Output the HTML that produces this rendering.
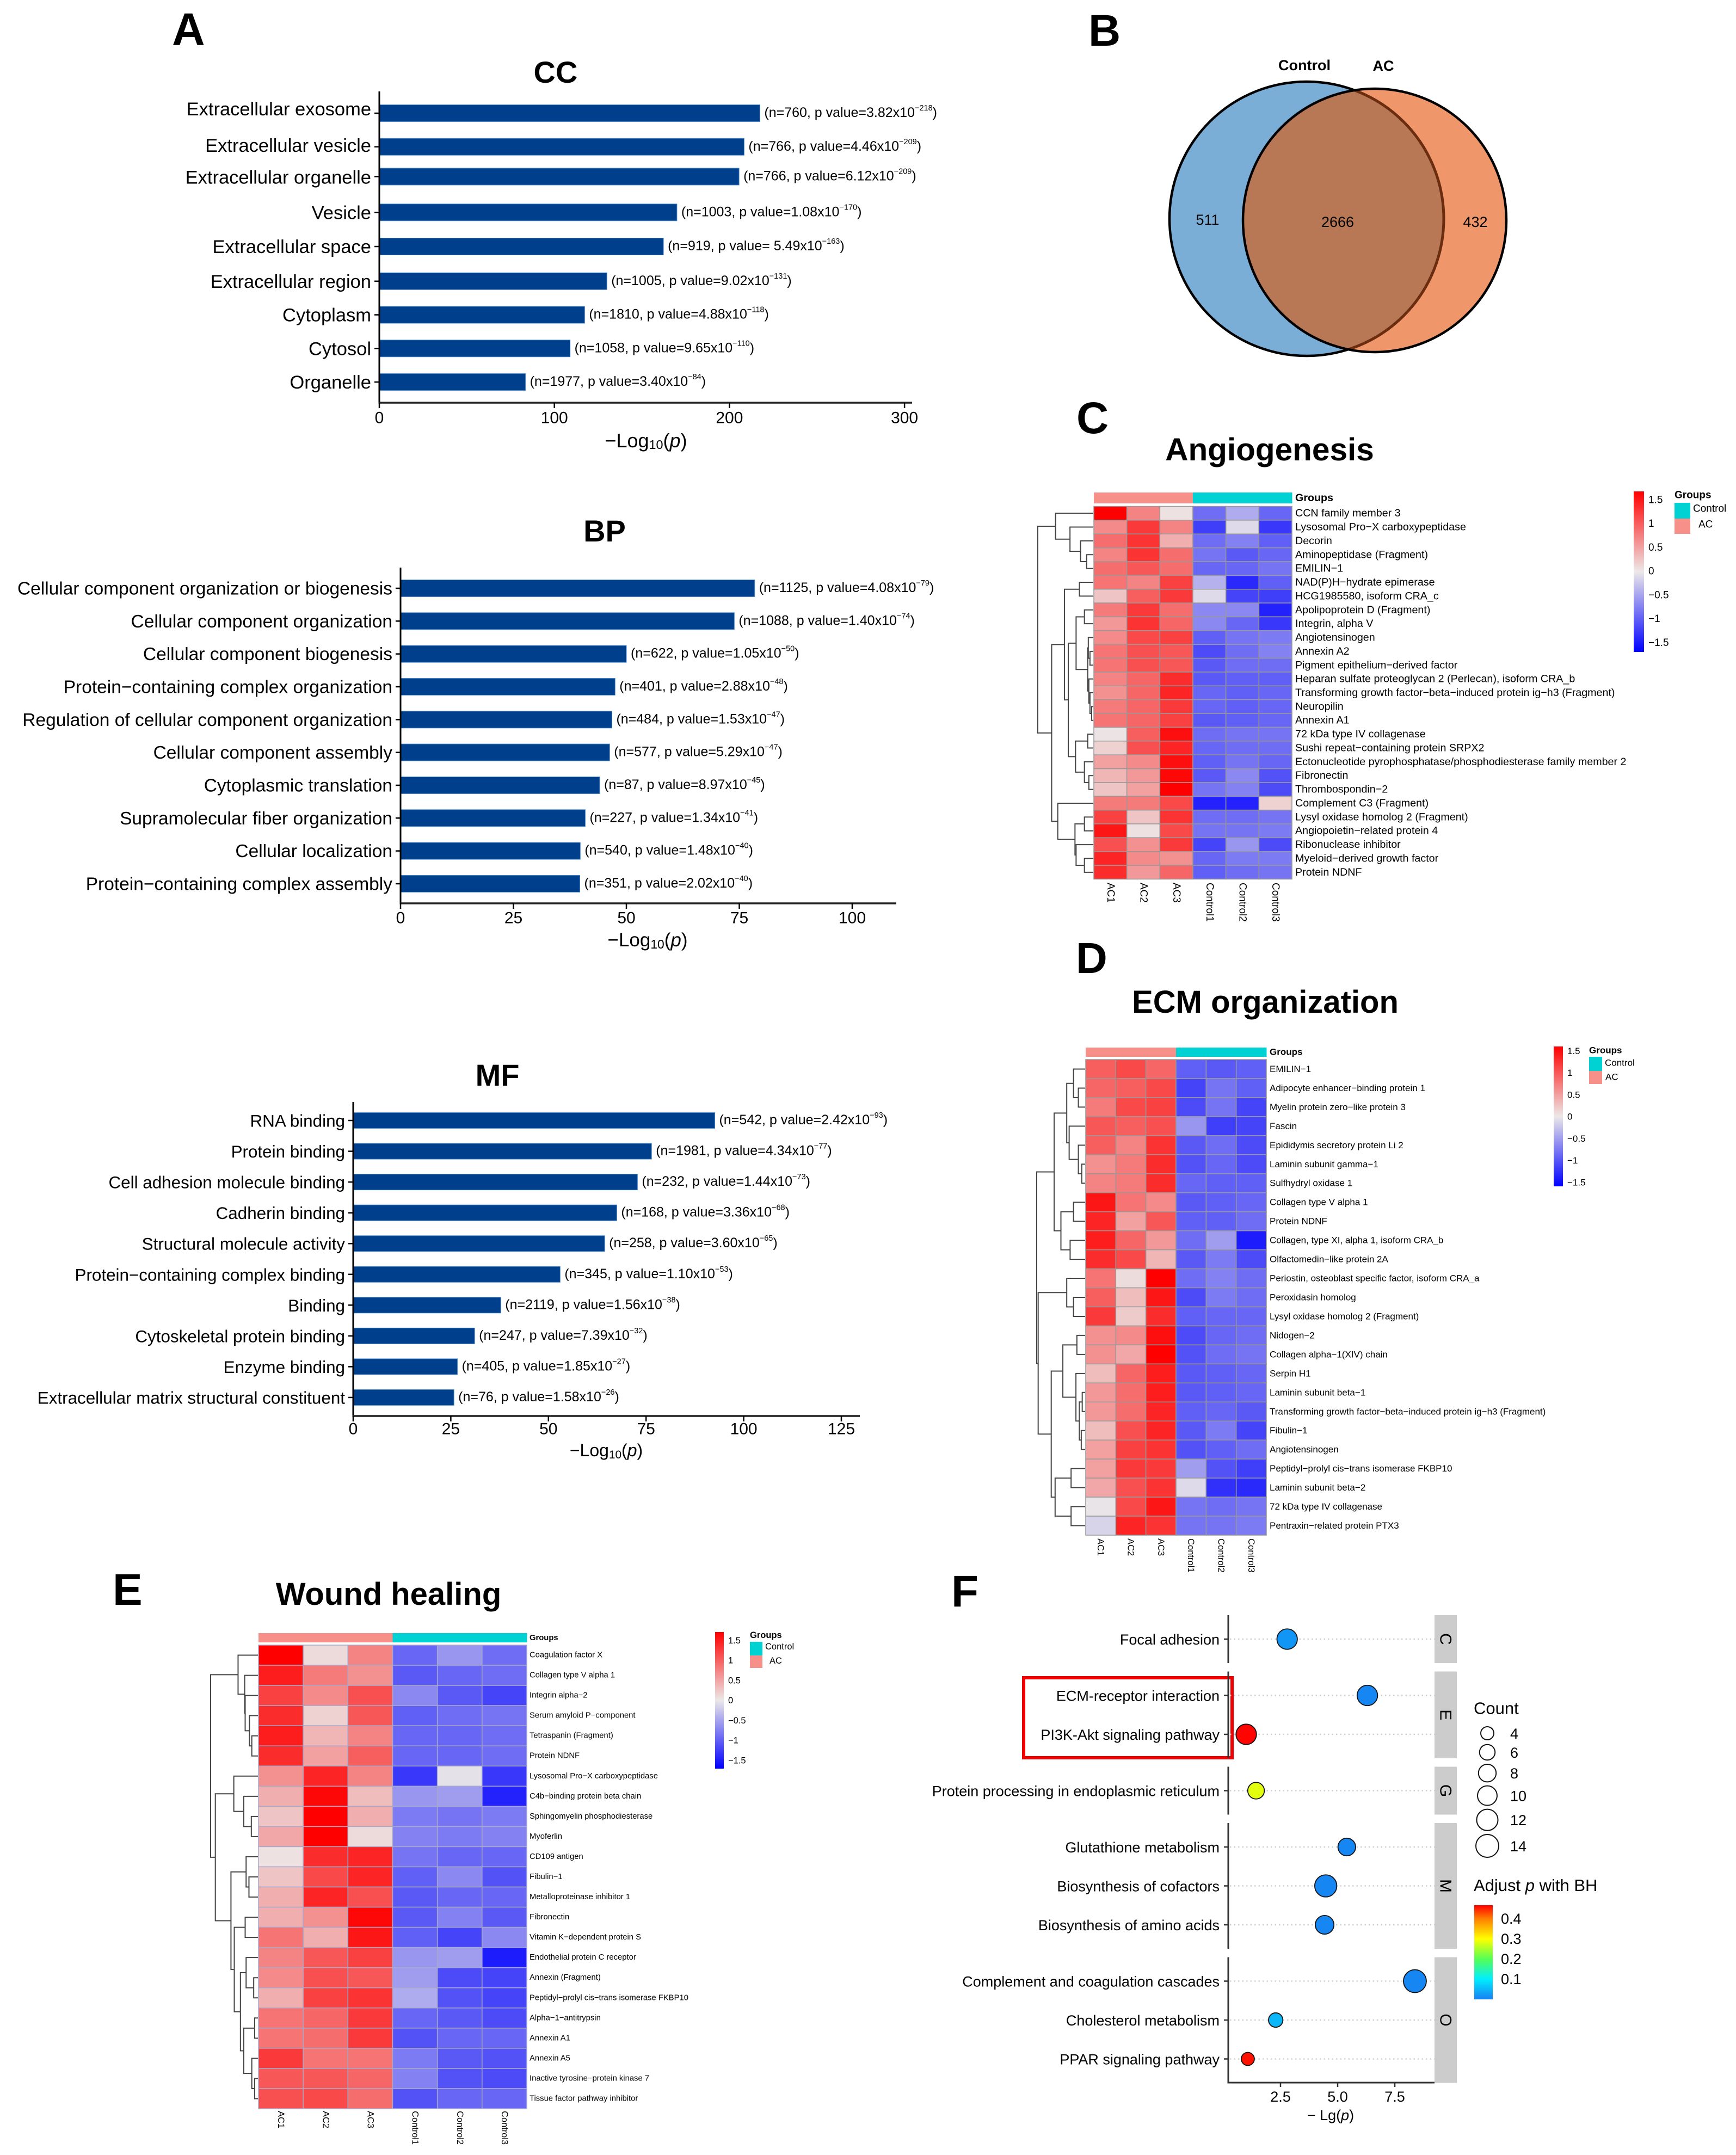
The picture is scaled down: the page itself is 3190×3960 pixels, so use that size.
<!DOCTYPE html>
<html lang="en">
<head>
<meta charset="utf-8">
<title>Proteomics multi-panel figure</title>
<style>
html,body{margin:0;padding:0;background:#fff;}
svg{display:block;font-family:"Liberation Sans",Arial,sans-serif;}
</style>
</head>
<body>
<svg id="figure" xmlns="http://www.w3.org/2000/svg" width="3190" height="3960" viewBox="0 0 3190 3960">
  <defs>
    <linearGradient id="heatGrad" x1="0" y1="0" x2="0" y2="1">
      <stop offset="0" stop-color="#ff0000"/><stop offset="0.5" stop-color="#ece8e8"/><stop offset="1" stop-color="#0000ff"/>
    </linearGradient>
    <linearGradient id="padjGrad" x1="0" y1="1" x2="0" y2="0">
      <stop offset="0" stop-color="#1780f2"/><stop offset="0.214" stop-color="#00eeff"/><stop offset="0.428" stop-color="#55ff55"/><stop offset="0.642" stop-color="#ffff00"/><stop offset="0.857" stop-color="#ff7f00"/><stop offset="1" stop-color="#ff0000"/>
    </linearGradient>
    <clipPath id="clipControl"><circle cx="2401" cy="402" r="252"/></clipPath>
    <clipPath id="clipAC"><circle cx="2526" cy="405" r="242"/></clipPath>
  </defs>

  <text x="316" y="83" font-size="84" font-weight="700">A</text>
  <text x="2000" y="84" font-size="82" font-weight="700">B</text>
  <text x="1978" y="796" font-size="82" font-weight="700">C</text>
  <text x="1977" y="1788" font-size="80" font-weight="700">D</text>
  <text x="207" y="2949" font-size="82" font-weight="700">E</text>
  <text x="1748" y="2952" font-size="82" font-weight="700">F</text>

  <text x="1021" y="152" font-size="56" font-weight="700" text-anchor="middle">CC</text>
  <text x="1111" y="995" font-size="56" font-weight="700" text-anchor="middle">BP</text>
  <text x="914" y="1995" font-size="56" font-weight="700" text-anchor="middle">MF</text>
  <text x="2333" y="846" font-size="58.5" font-weight="700" text-anchor="middle">Angiogenesis</text>
  <text x="2325" y="1861" font-size="58" font-weight="700" text-anchor="middle">ECM organization</text>
  <text x="714" y="2949" font-size="58" font-weight="700" text-anchor="middle">Wound healing</text>

  <g>
    <circle cx="2401" cy="402" r="252" fill="#7aaed6"/>
    <circle cx="2526" cy="405" r="242" fill="#f0966b"/>
    <circle cx="2526" cy="405" r="242" fill="#b97855" clip-path="url(#clipControl)"/>
    <circle cx="2401" cy="402" r="252" fill="none" stroke="#000" stroke-width="4.5"/>
    <circle cx="2401" cy="402" r="252" fill="none" stroke="#6a2d10" stroke-width="5" clip-path="url(#clipAC)"/>
    <circle cx="2526" cy="405" r="242" fill="none" stroke="#000" stroke-width="4.5"/>
    <text x="2397" y="120" font-size="27" font-weight="700" text-anchor="middle" dominant-baseline="central">Control</text>
    <text x="2542" y="121" font-size="27" font-weight="700" text-anchor="middle" dominant-baseline="central">AC</text>
    <text x="2219" y="404" font-size="27" text-anchor="middle" dominant-baseline="central">511</text>
    <text x="2458" y="408" font-size="27" text-anchor="middle" dominant-baseline="central">2666</text>
    <text x="2711" y="408" font-size="27" text-anchor="middle" dominant-baseline="central">432</text>
  </g>

  <rect x="1881" y="3083" width="383" height="147" fill="none" stroke="#f00000" stroke-width="6"/>
</svg>

<script>
/* ---------- Panel A data ---------- */
const ccCategories = ['Extracellular exosome','Extracellular vesicle','Extracellular organelle','Vesicle','Extracellular space','Extracellular region','Cytoplasm','Cytosol','Organelle'];
const ccValues = [217.4,208.4,205.5,170,162.3,130,117.3,109,83.5];
const ccCounts = [760,766,766,1003,919,1005,1810,1058,1977];
const ccPValues = ['3.82','4.46','6.12','1.08',' 5.49','9.02','4.88','9.65','3.40'];
const ccExponents = [218,209,209,170,163,131,118,110,84];
const ccTicks = [0,100,200,300];

const bpCategories = ['Cellular component organization or biogenesis','Cellular component organization','Cellular component biogenesis','Protein\u2212containing complex organization','Regulation of cellular component organization','Cellular component assembly','Cytoplasmic translation','Supramolecular fiber organization','Cellular localization','Protein\u2212containing complex assembly'];
const bpValues = [78.4,73.9,50,47.5,46.8,46.3,44.1,40.9,39.8,39.7];
const bpCounts = [1125,1088,622,401,484,577,87,227,540,351];
const bpPValues = ['4.08','1.40','1.05','2.88','1.53','5.29','8.97','1.34','1.48','2.02'];
const bpExponents = [79,74,50,48,47,47,45,41,40,40];
const bpTicks = [0,25,50,75,100];

const mfCategories = ['RNA binding','Protein binding','Cell adhesion molecule binding','Cadherin binding','Structural molecule activity','Protein\u2212containing complex binding','Binding','Cytoskeletal protein binding','Enzyme binding','Extracellular matrix structural constituent'];
const mfValues = [92.6,76.4,72.8,67.5,64.4,53,37.8,31.1,26.7,25.8];
const mfCounts = [542,1981,232,168,258,345,2119,247,405,76];
const mfPValues = ['2.42','4.34','1.44','3.36','3.60','1.10','1.56','7.39','1.85','1.58'];
const mfExponents = [93,77,73,68,65,53,38,32,27,26];
const mfTicks = [0,25,50,75,100,125];

/* ---------- Heatmap data ---------- */
const heatSamples = ['AC1','AC2','AC3','Control1','Control2','Control3'];
const heatSampleGroups = ['AC','AC','AC','Control','Control','Control'];
const heatLegendTicks = [1.5,1,0.5,0,-0.5,-1,-1.5];
const heatLegendLabels = ['1.5','1','0.5','0','\u22120.5','\u22121','\u22121.5'];

const angioGenes = ['CCN family member 3','Lysosomal Pro\u2212X carboxypeptidase','Decorin','Aminopeptidase (Fragment)','EMILIN\u22121','NAD(P)H\u2212hydrate epimerase','HCG1985580, isoform CRA_c','Apolipoprotein D (Fragment)','Integrin, alpha V','Angiotensinogen','Annexin A2','Pigment epithelium\u2212derived factor','Heparan sulfate proteoglycan 2 (Perlecan), isoform CRA_b','Transforming growth factor\u2212beta\u2212induced protein ig\u2212h3 (Fragment)','Neuropilin','Annexin A1','72 kDa type IV collagenase','Sushi repeat\u2212containing protein SRPX2','Ectonucleotide pyrophosphatase/phosphodiesterase family member 2','Fibronectin','Thrombospondin\u22122','Complement C3 (Fragment)','Lysyl oxidase homolog 2 (Fragment)','Angiopoietin\u2212related protein 4','Ribonuclease inhibitor','Myeloid\u2212derived growth factor','Protein NDNF'];
const angioValues = [
[1.6,.7,.05,-.9,-.45,-.95],[.65,1.2,.7,-1.25,-.1,-1.3],[.85,1.25,.4,-.9,-.75,-1],[.7,1.25,.85,-.85,-1.05,-.95],[.85,1,.85,-.95,-.95,-.85],
[.8,.7,1.15,-.4,-1.4,-1],[.25,.95,1.2,-.1,-1.2,-1.25],[.75,1.2,.85,-.7,-.7,-1.45],[.55,1.25,.9,-.7,-.95,-1.3],[.65,1.1,1.15,-1,-.85,-.8],
[.8,1.05,1,-1.15,-.9,-.75],[.8,1.05,1,-1.05,-.9,-.9],[.7,.9,1.3,-1.05,-1,-1],[.6,.9,1.35,-.95,-1,-.95],[.75,.9,1.2,-.95,-1,-.95],
[.8,.9,1.15,-1.05,-1,-.95],[.03,.95,1.5,-.9,-.85,-.85],[.15,1.05,1.35,-.95,-.9,-.9],[.5,.65,1.5,-1,-.85,-.95],[.35,.55,1.55,-1.05,-.7,-1.1],
[.25,.5,1.6,-.85,-.75,-1.15],[.75,.75,1.1,-1.45,-1.45,.15],[1.15,.25,1.25,-.9,-.9,-.85],[1.45,.05,1.1,-.85,-.85,-.8],[1.05,.6,1.2,-1.2,-.6,-1.15],
[1.35,.65,.6,-.95,-.8,-.8],[1.3,.55,.9,-1,-.9,-.85]];
/* Dendrograms: [merge height (0..1 of tree depth), left subtree, right subtree]; integers are row indices */
const angioTree = [1,
  [.68,0,[.42,1,[.23,2,[.12,3,4]]]],
  [.75,
    [.52,[.25,5,6],
      [.45,
        [.31,[.16,7,8],[.1,[.09,9,[.06,10,11]],[.08,12,[.06,13,[.03,14,15]]]]],
        [.32,[.1,16,17],[.16,18,[.08,19,20]]]]],
    [.64,21,[.33,[.16,22,23],[.31,24,[.16,25,26]]]]]];

const ecmGenes = ['EMILIN\u22121','Adipocyte enhancer\u2212binding protein 1','Myelin protein zero\u2212like protein 3','Fascin','Epididymis secretory protein Li 2','Laminin subunit gamma\u22121','Sulfhydryl oxidase 1','Collagen type V alpha 1','Protein NDNF','Collagen, type XI, alpha 1, isoform CRA_b','Olfactomedin\u2212like protein 2A','Periostin, osteoblast specific factor, isoform CRA_a','Peroxidasin homolog','Lysyl oxidase homolog 2 (Fragment)','Nidogen\u22122','Collagen alpha\u22121(XIV) chain','Serpin H1','Laminin subunit beta\u22121','Transforming growth factor\u2212beta\u2212induced protein ig\u2212h3 (Fragment)','Fibulin\u22121','Angiotensinogen','Peptidyl\u2212prolyl cis\u2212trans isomerase FKBP10','Laminin subunit beta\u22122','72 kDa type IV collagenase','Pentraxin\u2212related protein PTX3'];
const ecmValues = [
[.95,1.1,.9,-1,-1.05,-1],[.9,.95,1.1,-1.2,-.85,-1],[.75,1.1,1.15,-1.15,-.85,-1.2],[1,.95,1.05,-.6,-1.25,-1.2],[.95,.7,1.25,-1.05,-.9,-1.15],
[.6,.75,1.3,-1.1,-.95,-1.15],[.7,.75,1.3,-.95,-1,-1],[1.45,.8,.65,-1.05,-1,-.95],[1.35,.5,1,-1,-1,-.9],[1.4,.9,.55,-.9,-.55,-1.5],
[1.3,1.1,.35,-1.05,-.8,-1.15],[.8,.08,1.6,-.9,-.75,-.9],[.95,.3,1.45,-1.15,-.8,-.9],[1.2,.2,1.3,-1,-.95,-.95],[.6,.65,1.5,-1.15,-.95,-.9],
[.6,.45,1.6,-1.1,-.9,-.85],[.3,.9,1.4,-1.05,-1,-.95],[.55,.85,1.4,-1.05,-1,-.95],[.55,.85,1.35,-1,-.95,-1.05],[.3,1.05,1.35,-1.05,-.8,-1.2],
[.5,1.15,1.25,-1.1,-1,-.9],[.5,1.2,1.2,-.55,-1.1,-1.25],[.45,1.05,1.25,-.1,-1.35,-1.4],[-.03,1.1,1.45,-.85,-.9,-.85],[-.15,1.35,1.25,-.85,-.85,-.8]];
const ecmTree = [1,
  [.64,
    [.38,[.24,0,[.14,1,2]],[.33,3,[.14,4,[.07,5,6]]]],
    [.5,[.24,7,8],[.31,9,10]]],
  [.97,
    [.38,11,[.24,12,13]],
    [.7,
      [.46,[.17,14,15],[.19,16,[.12,[.06,17,18],[.08,19,20]]]],
      [.62,[.29,21,22],[.29,23,24]]]]];

const woundGenes = ['Coagulation factor X','Collagen type V alpha 1','Integrin alpha\u22122','Serum amyloid P\u2212component','Tetraspanin (Fragment)','Protein NDNF','Lysosomal Pro\u2212X carboxypeptidase','C4b\u2212binding protein beta chain','Sphingomyelin phosphodiesterase','Myoferlin','CD109 antigen','Fibulin\u22121','Metalloproteinase inhibitor 1','Fibronectin','Vitamin K\u2212dependent protein S','Endothelial protein C receptor','Annexin (Fragment)','Peptidyl\u2212prolyl cis\u2212trans isomerase FKBP10','Alpha\u22121\u2212antitrypsin','Annexin A1','Annexin A5','Inactive tyrosine\u2212protein kinase 7','Tissue factor pathway inhibitor'];
const woundValues = [
[1.6,.1,.7,-.95,-.6,-.9],[1.4,.75,.6,-1.05,-.95,-.9],[1.15,.65,1.05,-.7,-1.05,-1.2],[1.3,.15,1,-1,-.9,-.85],[1.4,.35,.7,-.95,-.95,-.9],
[1.3,.5,.95,-.95,-.95,-.9],[.6,1.35,.7,-1.3,-.05,-1.3],[.4,1.55,.3,-.6,-.55,-1.45],[.25,1.6,.4,-.8,-.85,-.8],[.45,1.6,.1,-.75,-.8,-.75],
[.05,1.3,1.35,-.85,-.95,-.95],[.25,1.1,1.35,-1,-.7,-1.1],[.4,1.35,1.05,-1.05,-.95,-.95],[.4,.6,1.55,-1.05,-.75,-1.05],[.8,.4,1.45,-1,-1.2,-.7],
[.7,1,1.15,-.6,-.55,-1.5],[.65,1.05,1,-.55,-1.15,-1.2],[.4,1.15,1.25,-.45,-1.1,-1.2],[.8,.9,1.2,-.95,-1.05,-1.15],[.8,.85,1.2,-1.1,-.95,-.95],
[1.2,.8,.8,-.8,-1.05,-1.1],[1,1,.9,-.75,-1.1,-1.15],[1.05,1.1,.85,-1.1,-.95,-.95]];
const woundTree = [1,
  [.42,0,[.28,1,[.27,2,[.18,3,[.13,4,5]]]]],
  [.9,
    [.51,6,[.3,7,[.14,8,9]]],
    [.57,
      [.25,10,[.19,11,12]],
      [.5,[.27,13,14],[.37,[.25,15,[.09,16,17]],[.3,[.07,18,19],[.13,20,[.07,21,22]]]]]]]];

/* ---------- Panel F data ---------- */
const pathwayFacets = ['C','E','G','M','O'];
const pathwayNames = ['Focal adhesion','ECM-receptor interaction','PI3K-Akt signaling pathway','Protein processing in endoplasmic reticulum','Glutathione metabolism','Biosynthesis of cofactors','Biosynthesis of amino acids','Complement and coagulation cascades','Cholesterol metabolism','PPAR signaling pathway'];
const pathwayGroups = ['C','E','E','G','M','M','M','O','O','O'];
const pathwayLogP = [2.79,6.3,1,1.43,5.4,4.48,4.43,8.38,2.29,1.07];
const pathwayCounts = [11,11,11,7,8,13,9,14,5,4];
const pathwayPadj = [.02,.005,.465,.283,.005,.005,.005,.005,.05,.458];
const pathwayAxisTicks = [2.5,5,7.5];
const countLegend = [4,6,8,10,12,14];
const padjLegendTicks = [.4,.3,.2,.1];

/* ---------- Helpers ---------- */
const NS = 'http://www.w3.org/2000/svg';
const fig = document.getElementById('figure');
function mk(tag, attrs, parent) {
  const e = document.createElementNS(NS, tag);
  for (const k in attrs) e.setAttribute(k, attrs[k]);
  (parent || fig).appendChild(e);
  return e;
}
function txt(parent, x, y, str, size, anchor, extra) {
  const e = mk('text', Object.assign({x: x, y: y, 'font-size': size, 'text-anchor': anchor || 'start', 'dominant-baseline': 'central'}, extra || {}), parent);
  e.textContent = str;
  return e;
}
function span(parent, str, attrs) {
  const t = mk('tspan', attrs || {}, parent);
  t.textContent = str;
  return t;
}
function slug(s) {
  return String(s).toLowerCase().replace(/[^a-z0-9]+/g, '-').replace(/^-|-$/g, '');
}

/* ---------- Bar charts ---------- */
function drawBars(c) {
  const g = mk('g', {});
  
  
  const xScale = v => c.x0 + v * c.unit;
  const yScale = i => c.y0 + i * c.step + ((c.nudge && c.nudge[i]) || 0);
  c.vals.forEach((v, i) => {
    const y = yScale(i);
    const bar = mk('rect', {x: xScale(0), y: y - c.barH / 2, width: xScale(v) - xScale(0), height: c.barH, fill: '#003f8c', stroke: '#4f8cc9', 'stroke-width': 1}, g);
    
    
    const tick = mk('line', {x1: c.x0 - 9, x2: c.x0, y1: y, y2: y, stroke: '#000', 'stroke-width': 2.5}, g);
    
    
    const lab = txt(g, c.x0 - 15, y + 1 + ((c.labelNudge && c.labelNudge[i]) || 0), c.cats[i], c.labelSize, 'end');
    
    
    const ann = txt(g, xScale(v) + 8, y - 1, '', c.annoSize, 'start');
    
    
    span(ann, '(n=' + c.ns[i] + ', p value=' + c.ps[i] + 'x10');
    span(ann, '\u2212' + c.exps[i], {'font-size': c.annoSize * 0.58, dy: -8});
    span(ann, ')', {dy: 8});
  });
  const yAxis = mk('line', {x1: c.x0, x2: c.x0, y1: c.top, y2: c.bottom, stroke: '#000', 'stroke-width': 3}, g);
  
  
  const xAxis = mk('line', {x1: c.x0 - 1.5, x2: c.axisEnd, y1: c.bottom, y2: c.bottom, stroke: '#222', 'stroke-width': 3.5}, g);
  
  
  c.ticks.forEach(t => {
    const x = xScale(t);
    const tk = mk('line', {x1: x, x2: x, y1: c.bottom, y2: c.bottom + 10, stroke: '#000', 'stroke-width': 2.5}, g);
    
    
    const tl = txt(g, x, c.tickY, t, c.tickSize, 'middle');
    
    
  });
  const title = txt(g, c.titleX, c.titleY, '', c.titleSize, 'middle');
  
  
  span(title, '\u2212Log');
  span(title, '10', {'font-size': c.titleSize * 0.65, dy: 8});
  span(title, '(', {dy: -8});
  span(title, 'p', {'font-style': 'italic'});
  span(title, ')');
}
drawBars({name:'cc', x0:697, unit:3.217, top:168, bottom:740, axisEnd:1676, y0:208, step:61.75, nudge:{2:-7,3:-3,4:-2}, labelNudge:{0:-8,1:-3,2:1}, barH:31, labelSize:34.5, annoSize:25, tickSize:30, tickY:768, titleX:1187, titleY:809, titleSize:36, cats:ccCategories, vals:ccValues, ns:ccCounts, ps:ccPValues, exps:ccExponents, ticks:ccTicks});
drawBars({name:'bp', x0:736, unit:8.3, top:1043, bottom:1660, axisEnd:1647, y0:1081, step:60.33, barH:31, labelSize:33.5, annoSize:25, tickSize:30, tickY:1687, titleX:1190, titleY:1727, titleSize:35, cats:bpCategories, vals:bpValues, ns:bpCounts, ps:bpPValues, exps:bpExponents, ticks:bpTicks});
drawBars({name:'mf', x0:649, unit:7.176, top:2025, bottom:2602, axisEnd:1580, y0:2059, step:56.55, barH:29, labelSize:31.4, annoSize:25, tickSize:30, tickY:2626, titleX:1114, titleY:2665, titleSize:32, cats:mfCategories, vals:mfValues, ns:mfCounts, ps:mfPValues, exps:mfExponents, ticks:mfTicks});

/* ---------- Heatmaps ---------- */
function heatColor(v) {
  const t = Math.min(1, Math.abs(v) / 1.6) * (v < 0 ? 0.94 : 1);
  const base = [236, 232, 232];
  const end = v >= 0 ? [255, 0, 0] : [0, 0, 255];
  return 'rgb(' + base.map((b, i) => Math.round(b + (end[i] - b) * t)).join(',') + ')';
}
function drawHeatmap(c) {
  const g = mk('g', {});
  
  
  const colW = (c.x1 - c.x0) / heatSamples.length;
  const rowH = (c.y1 - c.y0) / c.genes.length;
  const xCol = j => c.x0 + j * colW;
  const yRow = i => c.y0 + i * rowH;
  heatSampleGroups.forEach((grp, j) => {
    const an = mk('rect', {x: xCol(j), y: c.annTop, width: colW + .5, height: c.annBottom - c.annTop, fill: grp === 'AC' ? '#f8908a' : '#00d2d4'}, g);
    
    
    const cl = txt(g, 0, 0, heatSamples[j], c.colSize, 'start', {transform: 'translate(' + (xCol(j) + colW / 2) + ',' + c.colTop + ') rotate(90)'});
    
    
  });
  const gl = txt(g, c.labelX, c.groupsY, 'Groups', c.labelSize, 'start', {'font-weight': 700});
  
  
  c.values.forEach((row, i) => {
    row.forEach((v, j) => {
      const cell = mk('rect', {x: xCol(j), y: yRow(i), width: colW, height: rowH, fill: heatColor(v), stroke: c.grid, 'stroke-width': 1.5}, g);
      
      
    });
    const lab = txt(g, c.labelX, yRow(i) + rowH / 2, c.genes[i], c.labelSize, 'start');
    
    
  });
  const xDepth = h => c.x0 - 1 - h * (c.x0 - 1 - c.dendLeft);
  function walk(node) {
    if (typeof node === 'number') return {x: xDepth(0), y: yRow(node) + rowH / 2};
    const a = walk(node[1]), b = walk(node[2]);
    const nx = xDepth(node[0]);
    const p = mk('path', {d: 'M' + a.x + ' ' + a.y + 'H' + nx + 'V' + b.y + 'H' + b.x, fill: 'none', stroke: '#444', 'stroke-width': 2}, g);
    
    
    return {x: nx, y: (a.y + b.y) / 2};
  }
  walk(c.tree);
  const cb = mk('rect', {x: c.barX, y: c.barTop, width: c.barW, height: c.barBottom - c.barTop, fill: 'url(#heatGrad)'}, g);
  
  
  const yLegend = v => c.legendZero - v * c.legendUnit;
  heatLegendTicks.forEach((t, i) => {
    const tl = txt(g, c.barX + c.barW + 8, yLegend(t), heatLegendLabels[i], c.legendSize, 'start');
    
    
  });
  const lt = txt(g, c.swX, c.legTitleY, 'Groups', c.legendSize, 'start', {'font-weight': 700});
  
  
  const s1 = mk('rect', {x: c.swX, y: c.sw1, width: c.swW, height: c.sw2 - c.sw1, fill: '#00d2d4'}, g);
  
  
  const s2 = mk('rect', {x: c.swX, y: c.sw2, width: c.swW, height: c.sw3 - c.sw2, fill: '#f8908a'}, g);
  
  
  const l1 = txt(g, c.swX + c.swW + 5, c.ctrlY, 'Control', c.legendSize, 'start');
  
  
  const l2 = txt(g, c.acX, c.acY, 'AC', c.legendSize, 'start');
  
  
}
drawHeatmap({name:'angiogenesis', genes:angioGenes, values:angioValues, tree:angioTree, x0:2010, x1:2374, y0:930.5, y1:1615.5, annTop:905, annBottom:925, dendLeft:1907, labelX:2380, labelSize:19.7, groupsY:915, colSize:19, colTop:1622, grid:'#999', barX:3002, barW:19, barTop:903, barBottom:1198, legendZero:1050, legendUnit:87.5, legendSize:19, swX:3077, swW:29, legTitleY:910, sw1:924, sw2:953, sw3:981, ctrlY:935, acX:3121, acY:964});
drawHeatmap({name:'ecm-organization', genes:ecmGenes, values:ecmValues, tree:ecmTree, x0:1995, x1:2327, y0:1947, y1:2821, annTop:1925, annBottom:1942, dendLeft:1905, labelX:2333, labelSize:17, groupsY:1933, colSize:16.6, colTop:2827, grid:'#999', barX:2855, barW:17, barTop:1923, barBottom:2180, legendZero:2052, legendUnit:80.5, legendSize:17, swX:2920, swW:24, legTitleY:1930, sw1:1942, sw2:1968, sw3:1992, ctrlY:1953, acX:2950, acY:1979});
drawHeatmap({name:'wound-healing', genes:woundGenes, values:woundValues, tree:woundTree, x0:475, x1:968, y0:3023, y1:3875, annTop:3001, annBottom:3018, dendLeft:387, labelX:973, labelSize:14.8, groupsY:3010, colSize:16.4, colTop:3879, grid:'#a8a8c8', barX:1314, barW:16, barTop:2999, barBottom:3250, legendZero:3125, legendUnit:73.5, legendSize:16.5, swX:1378, swW:23, legTitleY:3005, sw1:3017, sw2:3042, sw3:3065, ctrlY:3026, acX:1414, acY:3052});

/* ---------- Panel F dot plot ---------- */
(function () {
  const g = mk('g', {});
  
  
  const xScale = v => 2353 + (v - 2.5) * 42;
  const rScale = n => Math.sqrt(144 + 297 * (n - 4) / 10);
  const stops = [[0,[23,128,242]],[.1,[0,238,255]],[.2,[85,255,85]],[.3,[255,255,0]],[.4,[255,127,0]],[.467,[255,0,0]]];
  function padjColor(v) {
    for (let i = 1; i < stops.length; i++) {
      if (v <= stops[i][0]) {
        const t = (v - stops[i - 1][0]) / (stops[i][0] - stops[i - 1][0]);
        return 'rgb(' + stops[i][1].map((c, k) => Math.round(stops[i - 1][1][k] + (c - stops[i - 1][1][k]) * t)).join(',') + ')';
      }
    }
    return 'rgb(255,0,0)';
  }
  let cursor = 2968, rowIdx = 0;
  const pad = 44, spacing = 71.5, gap = 15.5;
  pathwayFacets.forEach(f => {
    const members = pathwayGroups.filter(x => x === f).length;
    const h = 2 * pad + (members - 1) * spacing;
    const strip = mk('rect', {x: 2636, y: cursor, width: 41, height: h, fill: '#cccccc'}, g);
    
    
    const sl = txt(g, 0, 0, f, 30, 'middle', {transform: 'translate(2656,' + (cursor + h / 2) + ') rotate(90)'});
    
    
    const ax = mk('line', {x1: 2257, x2: 2257, y1: cursor, y2: cursor + h, stroke: '#333', 'stroke-width': 3}, g);
    
    
    for (let m = 0; m < members; m++) {
      const i = rowIdx++;
      const y = cursor + pad + m * spacing;
      const grid = mk('line', {x1: 2260, x2: 2636, y1: y, y2: y, stroke: '#d0d0d0', 'stroke-width': 2.5, 'stroke-dasharray': '2.5 5'}, g);
      
      
      const tk = mk('line', {x1: 2249, x2: 2257, y1: y, y2: y, stroke: '#333', 'stroke-width': 2.5}, g);
      
      
      const lab = txt(g, 2241, y + 1, pathwayNames[i], 27, 'end');
      
      
      const dot = mk('circle', {cx: xScale(pathwayLogP[i]), cy: y, r: rScale(pathwayCounts[i]), fill: padjColor(pathwayPadj[i]), stroke: '#111', 'stroke-width': 1.8}, g);
      
      
    }
    cursor += h + gap;
  });
  const baseY = 3827;
  const xa = mk('line', {x1: 2255.5, x2: 2636, y1: baseY, y2: baseY, stroke: '#333', 'stroke-width': 3}, g);
  
  
  pathwayAxisTicks.forEach(t => {
    const x = xScale(t);
    const tk = mk('line', {x1: x, x2: x, y1: baseY, y2: baseY + 8, stroke: '#333', 'stroke-width': 2.5}, g);
    
    
    const tl = txt(g, x, 3853, t.toFixed(1), 27, 'middle');
    
    
  });
  const xt = txt(g, 2445, 3887, '', 27, 'middle');
  
  
  span(xt, '\u2212 Lg(');
  span(xt, 'p', {'font-style': 'italic'});
  span(xt, ')');

  const ct = txt(g, 2708, 3139, 'Count', 31, 'start');
  
  
  let ly = 3185;
  countLegend.forEach((n, i) => {
    const r = rScale(n);
    if (i > 0) ly += 35 + (i - 1) * 3.2;
    const c = mk('circle', {cx: 2733, cy: ly, r: r, fill: '#fff', stroke: '#111', 'stroke-width': 2}, g);
    
    
    const l = txt(g, 2775, ly + 1, n, 27, 'start');
    
    
  });
  const pt = txt(g, 2708, 3464, '', 31, 'start');
  
  
  span(pt, 'Adjust ');
  span(pt, 'p', {'font-style': 'italic'});
  span(pt, ' with BH');
  const bar = mk('rect', {x: 2709, y: 3501, width: 34, height: 173, fill: 'url(#padjGrad)'}, g);
  
  
  padjLegendTicks.forEach(t => {
    const l = txt(g, 2758, 3674 - t * 370, t.toFixed(1), 27, 'start');
    
    
  });
})();
</script>
</body>
</html>
